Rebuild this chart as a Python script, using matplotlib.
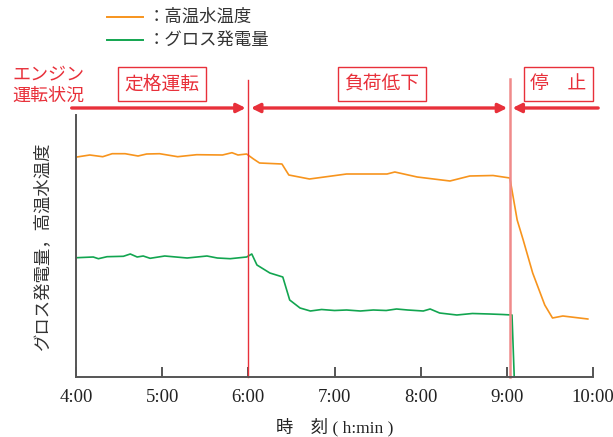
import matplotlib
matplotlib.use('Agg')
import matplotlib.pyplot as plt
from matplotlib.lines import Line2D

JP = ['Noto Sans CJK JP', 'DejaVu Sans']
SERIF_JP = ['Liberation Serif', 'Noto Sans CJK JP']
RED = '#e8303a'
ORANGE = '#f7941d'
GREEN = '#12a550'

# time in hours, values in arbitrary units (0 = axis bottom)
temp_t = [4.01, 4.16, 4.31, 4.42, 4.57, 4.72, 4.82, 4.97, 5.18, 5.40, 5.70, 5.81, 5.88, 5.98,
          6.06, 6.13, 6.39, 6.47, 6.71, 7.14, 7.61, 7.70, 7.96, 8.34, 8.57, 8.84, 9.035,
          9.12, 9.19, 9.30, 9.44, 9.53, 9.65, 9.94]
temp_v = [220, 222, 220.3, 223.3, 223.3, 221, 223, 223.3, 220.3, 222.3, 222, 224.3, 222, 223,
          218, 214, 213, 202, 198, 203, 203, 205, 200, 196, 201, 201.5, 199,
          157, 137, 104, 72, 59, 61, 58]

gen_t = [4.01, 4.20, 4.26, 4.36, 4.55, 4.63, 4.71, 4.78, 4.86, 5.03, 5.29, 5.52, 5.64, 5.79, 5.98,
         6.04, 6.10, 6.25, 6.40, 6.48, 6.60, 6.72, 6.85, 7.00, 7.14, 7.30, 7.45, 7.60, 7.72, 7.85,
         8.03, 8.11, 8.22, 8.42, 8.60, 8.80, 8.95, 9.06, 9.09]
gen_v = [119.3, 120, 118.3, 120.3, 120.7, 123, 120, 121, 118.7, 121, 119, 121, 119, 118.3, 120,
         123, 112, 104, 100, 77, 69, 66, 67.5, 66.5, 67, 66, 67, 66.5, 68, 67,
         66, 68, 64, 62, 63.5, 63, 62.5, 62, -10]

stop_t = 9.035
hours = [4, 5, 6, 7, 8, 9, 10]
hour_labels = ['4:00', '5:00', '6:00', '7:00', '8:00', '9:00', '10:00']

fig = plt.figure(figsize=(6.13, 4.37), dpi=100)
ax = fig.add_axes([76 / 613, 1 - 377 / 437, (593 - 76) / 613, (377 - 115) / 437])

ax.plot(temp_t, temp_v, color=ORANGE, lw=1.2)
ax.plot(gen_t, gen_v, color=GREEN, lw=1.2)
ax.set_xlim(4, 10)
ax.set_ylim(0, 262)

ax.axvline(6, ymin=0, ymax=1.134, color=RED, lw=1.0, clip_on=False)
ax.axvline(stop_t, ymin=0, ymax=1.137, color='#f08a8a', lw=1.8, clip_on=False)

for s in ['top', 'right']:
    ax.spines[s].set_visible(False)
for s in ['left', 'bottom']:
    ax.spines[s].set_color('#555555')
    ax.spines[s].set_linewidth(1.4)
ax.set_yticks([])
ax.set_xticks(hours)
ax.set_xticklabels(hour_labels, family='Liberation Serif', fontsize=13.5, color='#222222')
ax.tick_params(axis='x', direction='in', length=7, width=1.4, color='#555555', pad=9)

ax.set_xlabel('時　刻 ( h:min )', family=SERIF_JP, fontsize=12.5, color='#222222', labelpad=8)
fig.text(42 / 613, 1 - 246 / 437, 'グロス発電量，高温水温度', rotation=90, family=JP,
         fontsize=12.5, color='#333333', ha='center', va='center')

# engine state arrows
tr = ax.get_xaxis_transform()
ya = (377 - 108) / 262
arr = dict(lw=2.4, color=RED, mutation_scale=13, shrinkA=0, shrinkB=0)
ax.annotate('', xy=(5.97, ya), xytext=(3.95, ya), xycoords=tr, textcoords=tr,
            arrowprops=dict(arrowstyle='-|>', **arr), annotation_clip=False)
ax.annotate('', xy=(stop_t - 0.03, ya), xytext=(6.03, ya), xycoords=tr, textcoords=tr,
            arrowprops=dict(arrowstyle='<|-|>', **arr), annotation_clip=False)
ax.annotate('', xy=(stop_t + 0.03, ya), xytext=(10.06, ya), xycoords=tr, textcoords=tr,
            arrowprops=dict(arrowstyle='-|>', **arr), annotation_clip=False)

yb = (377 - 84) / 262
box = dict(boxstyle='square,pad=0.35', fc='white', ec=RED, lw=1.0)
ax.text(5.0, yb, '定格運転', transform=tr, family=JP, fontsize=13.5, color=RED,
        ha='center', va='center', bbox=box)
ax.text(7.55, yb, '負荷低下', transform=tr, family=JP, fontsize=13.5, color=RED,
        ha='center', va='center', bbox=box)
ax.text(9.60, yb, '停　止', transform=tr, family=JP, fontsize=13.5, color=RED,
        ha='center', va='center', bbox=dict(boxstyle='square,pad=0.35', fc='white', ec=RED, lw=1.0))

fig.text(12 / 613, 1 - 85 / 437, 'エンジン\n運転状況', family=JP, fontsize=13, color=RED,
         ha='left', va='center', linespacing=1.2)

# legend
for y, col, lab in [(17, ORANGE, '：高温水温度'), (40, GREEN, '：グロス発電量')]:
    fy = 1 - y / 437
    fig.add_artist(Line2D([107 / 613, 143 / 613], [fy, fy], color=col, lw=1.4))
    fig.text(148 / 613, fy, lab, family=JP, fontsize=12.5, color='#333333', ha='left', va='center')

fig.savefig('out.png', dpi=100)
